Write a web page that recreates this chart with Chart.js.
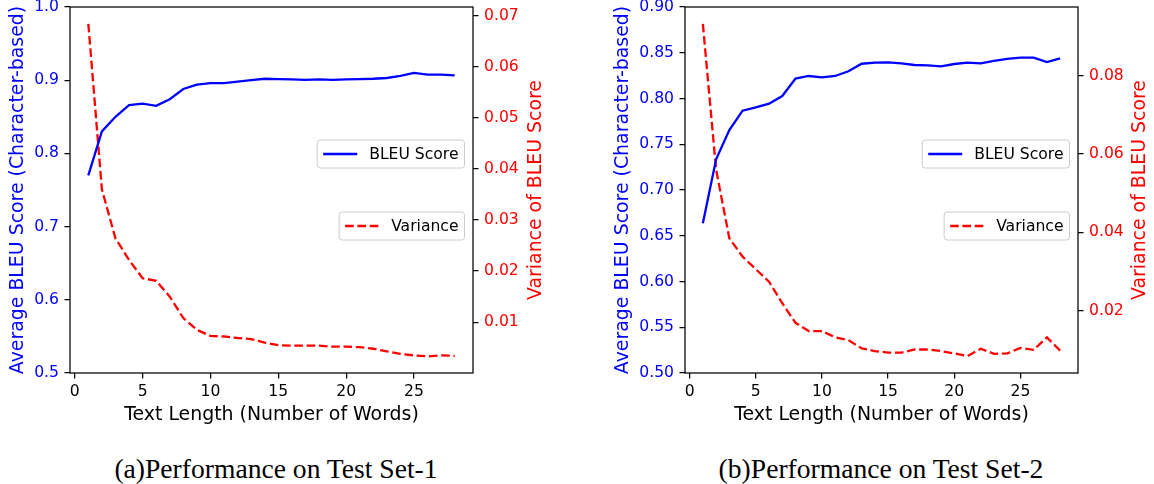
<!DOCTYPE html>
<html><head><meta charset="utf-8">
<script src="https://cdn.jsdelivr.net/npm/chart.js@4/dist/chart.umd.min.js"></script>
<style>
html,body{margin:0;padding:0;background:#fff;width:1154px;height:484px;overflow:hidden;position:relative}
canvas{position:absolute;top:0}
.cap{position:absolute;font-family:'Liberation Serif','Times New Roman',serif;font-size:27.6px;line-height:1;text-align:center;width:500px;white-space:nowrap;color:#000}
</style></head><body>
<canvas id="c1" width="577" height="426" style="left:0"></canvas>
<canvas id="c2" width="577" height="426" style="left:577px"></canvas>
<div class="cap" style="left:26px;top:455px">(a)Performance on Test Set-1</div>
<div class="cap" style="left:631px;top:455px">(b)Performance on Test Set-2</div>
<script>
// ---- data ----
const textLengths = [1,2,3,4,5,6,7,8,9,10,11,12,13,14,15,16,17,18,19,20,21,22,23,24,25,26,27,28];
const bleuSet1 = [0.770,0.830,0.850,0.866,0.868,0.865,0.874,0.888,0.894,0.896,0.896,0.898,0.900,0.902,0.9015,0.901,0.9005,0.901,0.9005,0.901,0.9015,0.902,0.903,0.906,0.910,0.9075,0.9075,0.9065];
const varSet1 = [0.0684,0.0360,0.0264,0.0222,0.0186,0.0181,0.0150,0.0108,0.0085,0.0073,0.0072,0.0069,0.0067,0.0060,0.0055,0.0054,0.0054,0.0054,0.0052,0.0052,0.0051,0.0048,0.0043,0.0038,0.0035,0.0033,0.0035,0.0034];
const bleuSet2 = [0.6636,0.7335,0.7656,0.7867,0.7904,0.7943,0.8027,0.8217,0.8246,0.8231,0.8246,0.8297,0.8380,0.8391,0.8395,0.8384,0.8366,0.8362,0.8352,0.8377,0.8392,0.8384,0.8410,0.8432,0.8446,0.8446,0.8399,0.8439];
const varSet2 = [0.0932,0.0560,0.0385,0.0338,0.0306,0.0274,0.0219,0.0169,0.0148,0.0148,0.0132,0.0125,0.0104,0.0097,0.0093,0.0093,0.0101,0.0101,0.0097,0.0091,0.0084,0.0103,0.0090,0.0091,0.0105,0.0100,0.0132,0.0098];
const xTickLabels = ['0','5','10','15','20','25'];
const bleuTickLabels1 = ['0.5','0.6','0.7','0.8','0.9','1.0'];
const varTickLabels1 = ['0.01','0.02','0.03','0.04','0.05','0.06','0.07'];
const bleuTickLabels2 = ['0.50','0.55','0.60','0.65','0.70','0.75','0.80','0.85','0.90'];
const varTickLabels2 = ['0.02','0.04','0.06','0.08'];

// ---- styling ----
const FS = 15.6;      // tick / legend text
const TFS = 18.9;     // axis titles
const FAMILY = '"DejaVu Sans", sans-serif';
Chart.defaults.font.family = FAMILY;
Chart.defaults.font.size = FS;
Chart.defaults.color = '#000';
const BLUE = '#0000ff', RED = '#ff0000';
const DASH = [8.6, 3.7];
const fnt = (s) => ({family:FAMILY, size:s || FS});

function tickScale(labels){
  return {
    afterBuildTicks: s => { s.ticks = labels.map(l => ({value: parseFloat(l)})); },
    cb: (v, i) => labels[i]
  };
}

function legendBox(ctx, right, top, label, color, dash){
  const tw = ctx.measureText(label).width;
  const h = 28;
  const left = right - 6 - tw - 52;
  ctx.beginPath();
  if (ctx.roundRect) ctx.roundRect(left, top, right-left, h, 3); else ctx.rect(left, top, right-left, h);
  ctx.fillStyle = 'rgba(255,255,255,0.8)'; ctx.fill();
  ctx.strokeStyle = '#cccccc'; ctx.lineWidth = 1; ctx.stroke();
  ctx.beginPath(); ctx.setLineDash(dash);
  ctx.moveTo(left+6, top+h/2); ctx.lineTo(left+40, top+h/2);
  ctx.strokeStyle = color; ctx.lineWidth = 2.3; ctx.stroke(); ctx.setLineDash([]);
  ctx.fillStyle = '#000'; ctx.textAlign = 'left'; ctx.textBaseline = 'middle';
  ctx.fillText(label, left+52, top+h/2+0.5);
}

const decor = {
  id: 'decor',
  afterDraw(chart, args, o){
    const {ctx, chartArea:a} = chart;
    ctx.save();
    ctx.strokeStyle = '#000'; ctx.lineWidth = 1.25;
    ctx.strokeRect(a.left, a.top, a.right-a.left, a.bottom-a.top);
    ctx.font = FS + 'px ' + FAMILY;
    legendBox(ctx, a.right-8.5, a.top+133, 'BLEU Score', BLUE, []);
    legendBox(ctx, a.right-8.5, a.top+205, 'Variance', RED, DASH);
    ctx.font = TFS + 'px ' + FAMILY;
    ctx.translate(o.rightTitleX, (a.top+a.bottom)/2);
    ctx.rotate(-Math.PI/2);
    ctx.textAlign = 'center'; ctx.textBaseline = 'middle'; ctx.fillStyle = RED;
    ctx.fillText('Variance of BLEU Score', 0, 0);
    ctx.restore();
  }
};

function makeChart(id, g){
  const gridOpt = () => ({display:true, drawOnChartArea:false, drawTicks:true, tickLength:5.5, color:'#000', lineWidth:1.25});
  const xt = tickScale(xTickLabels), yt = tickScale(g.yLabels), y1t = tickScale(g.y1Labels);
  return new Chart(document.getElementById(id), {
    type: 'line',
    data: {
      datasets: [
        {label:'BLEU Score', data: textLengths.map((x,i)=>({x, y:g.bleu[i]})), borderColor:BLUE, borderWidth:2.3, pointRadius:0, tension:0, fill:false, yAxisID:'y'},
        {label:'Variance', data: textLengths.map((x,i)=>({x, y:g.vari[i]})), borderColor:RED, borderWidth:2.3, borderDash:DASH, pointRadius:0, tension:0, fill:false, yAxisID:'y1'}
      ]
    },
    options: {
      responsive:false, animation:false, events:[],
      layout:{padding:{top:7,left:0,right:0,bottom:0}},
      plugins:{legend:{display:false}, tooltip:{enabled:false}, decor:{rightTitleX:g.rightTitleX}},
      scales:{
        x:{type:'linear', position:'bottom', min:-0.35, max:29.35,
           afterBuildTicks:xt.afterBuildTicks,
           ticks:{font:fnt(), color:'#000', padding:4, autoSkip:false, maxRotation:0, callback:xt.cb},
           grid:gridOpt(), border:{display:false},
           title:{display:true, text:'Text Length (Number of Words)', font:fnt(TFS), color:'#000', padding:{top:0,bottom:0}},
           afterFit:s=>{s.height=53; s.paddingLeft=0; s.paddingRight=0;}},
        y:{type:'linear', position:'left', min:g.yMin, max:g.yMax,
           afterBuildTicks:yt.afterBuildTicks,
           ticks:{font:fnt(), color:BLUE, padding:5.5, autoSkip:false, callback:yt.cb},
           grid:gridOpt(), border:{display:false},
           title:{display:true, text:'Average BLEU Score (Character-based)', font:fnt(TFS), color:BLUE, padding:{top:g.leftTitlePad,bottom:0}},
           afterFit:s=>{s.width=g.leftW; s.paddingTop=0; s.paddingBottom=0;}},
        y1:{type:'linear', position:'right', min:g.y1Min, max:g.y1Max,
           afterBuildTicks:y1t.afterBuildTicks,
           ticks:{font:fnt(), color:RED, padding:5.5, autoSkip:false, callback:y1t.cb},
           grid:gridOpt(), border:{display:false},
           title:{display:false},
           afterFit:s=>{s.width=g.rightW; s.paddingTop=0; s.paddingBottom=0;}}
      }
    },
    plugins:[decor]
  });
}

makeChart('c1', {bleu:bleuSet1, vari:varSet1, yLabels:bleuTickLabels1, y1Labels:varTickLabels1,
  yMin:0.5, yMax:1.0, y1Min:0.00005, y1Max:0.0717, leftW:70, rightW:104, leftTitlePad:7.1, rightTitleX:536.5});
makeChart('c2', {bleu:bleuSet2, vari:varSet2, yLabels:bleuTickLabels2, y1Labels:varTickLabels2,
  yMin:0.5, yMax:0.9, y1Min:0.0041, y1Max:0.0975, leftW:108, rightW:76, leftTitlePad:35.1, rightTitleX:563});
</script>
</body></html>
